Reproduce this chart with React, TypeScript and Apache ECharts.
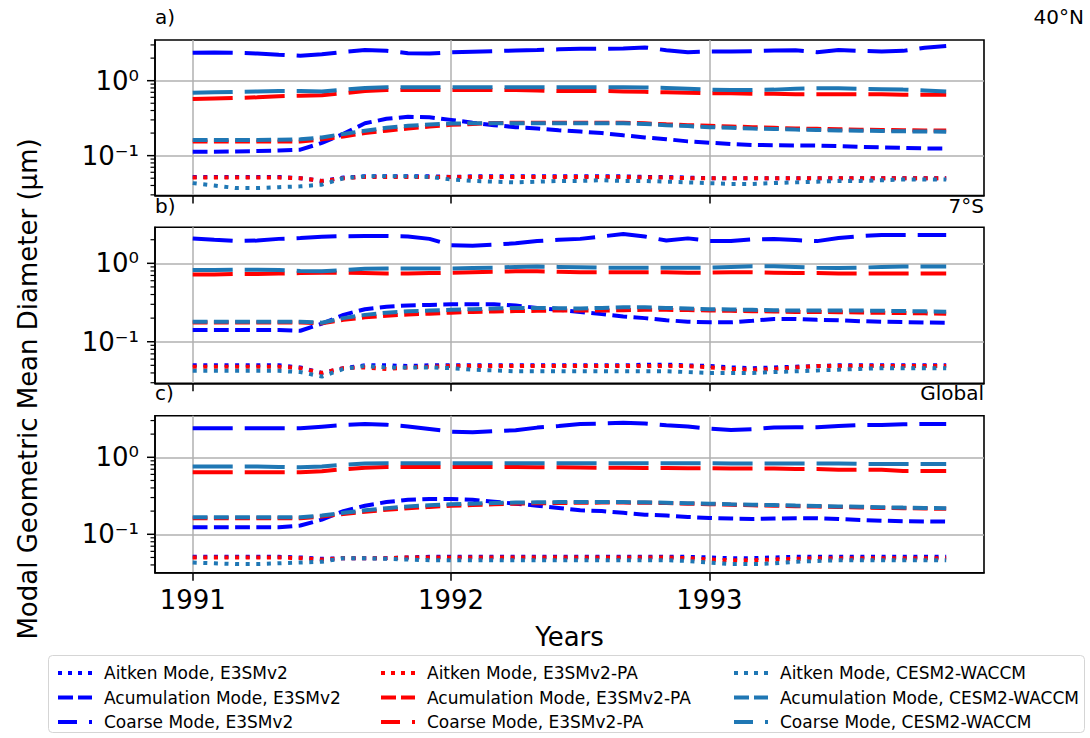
import React, { useEffect, useRef } from 'react';
import * as echarts from 'echarts';

// ---- time axis (monthly means, Jan 1991 .. Dec 1993) ----
const monthIndex = Array.from({ length: 36 }, (_, i) => i);
const xYears = monthIndex.map((i) => 1991 + i / 12);
const xTicks = [1991, 1992, 1993];
const yMajorTicks = [0.1, 1];
const yMinorTicks = [0.03, 0.04, 0.05, 0.06, 0.07, 0.08, 0.09, 0.2, 0.3, 0.4, 0.5, 0.6, 0.7, 0.8, 0.9, 2, 3];

// ---- panel a) 40°N ----
const aAitE3 = [.052,.052,.052,.052,.052,.05,.046,.051,.053,.053,.053,.053,.052,.053,.053,.053,.053,.053,.053,.053,.053,.052,.052,.051,.05,.05,.05,.05,.05,.05,.05,.05,.05,.05,.05,.05];
const aAitPA = [.051,.051,.051,.051,.051,.05,.046,.05,.052,.052,.052,.052,.052,.052,.052,.052,.052,.052,.052,.052,.052,.051,.051,.05,.05,.05,.05,.05,.05,.05,.05,.05,.05,.05,.05,.05];
const aAitCE = [.043,.040,.037,.037,.038,.039,.041,.050,.053,.053,.053,.052,.048,.046,.045,.044,.045,.046,.046,.047,.046,.046,.045,.044,.043,.042,.042,.043,.044,.045,.046,.046,.047,.048,.048,.048];
const aAccE3 = [.113,.113,.114,.115,.117,.12,.148,.195,.27,.31,.33,.325,.30,.275,.255,.24,.23,.218,.21,.2,.187,.175,.166,.155,.149,.143,.139,.138,.137,.136,.134,.131,.129,.127,.125,.125];
const aAccPA = [.154,.154,.154,.154,.154,.154,.165,.18,.2,.215,.23,.245,.258,.265,.272,.275,.275,.275,.275,.275,.275,.27,.262,.255,.25,.245,.24,.235,.23,.228,.225,.222,.22,.218,.217,.216];
const aAccCE = [.162,.162,.162,.162,.163,.165,.175,.195,.215,.235,.25,.26,.268,.27,.27,.27,.27,.27,.27,.27,.27,.265,.255,.248,.24,.235,.23,.227,.223,.22,.217,.215,.213,.211,.21,.209];
const aCoaE3 = [2.36,2.38,2.36,2.3,2.22,2.15,2.25,2.42,2.57,2.5,2.33,2.3,2.4,2.44,2.48,2.53,2.57,2.62,2.66,2.66,2.68,2.78,2.55,2.4,2.45,2.46,2.48,2.53,2.55,2.4,2.56,2.5,2.45,2.5,2.75,2.9];
const aCoaPA = [.57,.58,.59,.6,.62,.63,.64,.68,.73,.75,.75,.75,.75,.75,.75,.75,.74,.73,.73,.73,.72,.71,.7,.69,.68,.68,.67,.67,.66,.66,.66,.66,.66,.65,.65,.65];
const aCoaCE = [.69,.70,.71,.72,.73,.73,.72,.76,.80,.82,.82,.82,.82,.82,.82,.82,.82,.82,.82,.82,.82,.81,.80,.78,.76,.75,.75,.76,.78,.79,.79,.78,.77,.76,.74,.72];

// ---- panel b) 7°S ----
const bAitE3 = [.05,.05,.05,.05,.05,.047,.04,.046,.05,.05,.049,.05,.05,.05,.05,.05,.05,.05,.05,.05,.05,.051,.051,.05,.049,.047,.046,.047,.048,.049,.05,.05,.05,.05,.05,.05];
const bAitPA = [.048,.048,.048,.048,.048,.046,.04,.046,.047,.045,.047,.048,.049,.049,.049,.049,.049,.049,.049,.049,.049,.049,.049,.049,.047,.045,.044,.045,.047,.049,.049,.049,.049,.049,.049,.049];
const bAitCE = [.0425,.0425,.0425,.0425,.0425,.041,.036,.045,.049,.047,.047,.047,.046,.044,.043,.042,.042,.042,.042,.042,.042,.042,.042,.041,.04,.04,.04,.041,.042,.043,.044,.045,.046,.046,.046,.046];
const bAccE3 = [.141,.141,.141,.141,.141,.138,.17,.22,.26,.28,.29,.295,.3,.3,.3,.29,.27,.255,.24,.225,.21,.2,.188,.18,.177,.177,.185,.195,.195,.19,.188,.183,.18,.178,.176,.175];
const bAccPA = [.176,.176,.176,.176,.176,.176,.172,.19,.205,.215,.222,.228,.235,.24,.243,.246,.248,.25,.25,.25,.252,.255,.255,.253,.25,.248,.245,.243,.24,.24,.238,.236,.234,.232,.23,.228];
const bAccCE = [.18,.18,.18,.18,.18,.18,.175,.2,.22,.235,.245,.25,.255,.26,.265,.27,.27,.268,.265,.27,.275,.275,.27,.265,.26,.258,.255,.252,.25,.25,.25,.25,.248,.246,.244,.242];
const bCoaE3 = [2.08,2.0,1.93,1.95,2.05,2.1,2.18,2.22,2.23,2.23,2.2,2.05,1.7,1.68,1.73,1.8,1.92,2.0,2.05,2.2,2.36,2.2,1.95,2.08,1.93,1.92,2.02,2.04,1.98,1.92,2.1,2.22,2.3,2.3,2.3,2.3];
const bCoaPA = [.72,.72,.73,.73,.74,.75,.76,.76,.75,.74,.74,.75,.76,.77,.78,.79,.79,.78,.77,.77,.77,.77,.77,.76,.76,.77,.77,.76,.75,.75,.74,.74,.74,.74,.74,.74];
const bCoaCE = [.82,.82,.83,.83,.82,.8,.79,.82,.85,.86,.86,.86,.86,.87,.88,.9,.91,.9,.89,.88,.88,.88,.88,.88,.88,.9,.92,.92,.9,.88,.87,.88,.9,.91,.91,.91];

// ---- panel c) Global ----
const cAitE3 = [.051,.051,.051,.051,.051,.05,.048,.049,.049,.049,.05,.051,.051,.051,.051,.051,.051,.051,.051,.051,.051,.051,.051,.051,.05,.049,.049,.05,.051,.051,.051,.051,.051,.051,.051,.051];
const cAitPA = [.05,.05,.05,.05,.05,.049,.047,.049,.049,.049,.05,.05,.05,.05,.05,.05,.05,.05,.05,.05,.05,.05,.05,.049,.047,.046,.046,.047,.048,.049,.049,.049,.049,.049,.049,.049];
const cAitCE = [.043,.042,.041,.041,.042,.043,.044,.049,.049,.048,.047,.046,.046,.046,.046,.046,.046,.046,.046,.046,.046,.046,.046,.045,.043,.041,.041,.042,.044,.045,.046,.046,.046,.046,.046,.046];
const cAccE3 = [.123,.123,.123,.123,.123,.13,.155,.2,.235,.262,.28,.287,.287,.28,.265,.25,.235,.22,.205,.2,.19,.18,.175,.168,.163,.16,.158,.16,.162,.162,.158,.153,.15,.148,.147,.146];
const cAccPA = [.162,.162,.162,.162,.162,.162,.17,.183,.196,.208,.218,.227,.234,.24,.245,.25,.253,.255,.257,.258,.258,.257,.254,.25,.246,.242,.238,.235,.232,.229,.226,.223,.22,.218,.216,.214];
const cAccCE = [.166,.166,.166,.166,.166,.166,.175,.19,.205,.218,.23,.238,.245,.25,.255,.258,.26,.262,.262,.262,.262,.26,.257,.253,.25,.245,.242,.24,.236,.233,.23,.228,.225,.222,.22,.218];
const cCoaE3 = [2.38,2.38,2.38,2.38,2.38,2.38,2.5,2.62,2.71,2.65,2.52,2.33,2.15,2.11,2.18,2.25,2.43,2.55,2.7,2.75,2.8,2.75,2.6,2.52,2.35,2.26,2.32,2.43,2.45,2.45,2.55,2.63,2.63,2.68,2.71,2.71];
const cCoaPA = [.64,.64,.64,.64,.64,.64,.66,.7,.73,.75,.75,.75,.75,.75,.75,.75,.745,.74,.735,.73,.73,.725,.725,.72,.72,.715,.715,.715,.705,.705,.69,.69,.69,.665,.665,.665];
const cCoaCE = [.76,.76,.76,.76,.75,.74,.76,.8,.83,.835,.835,.835,.835,.835,.835,.835,.835,.835,.835,.835,.835,.835,.835,.835,.835,.83,.83,.83,.83,.83,.83,.82,.82,.82,.82,.82];

const panels = [
  { label: 'a)', region: '40°N', data: [[aAitE3, aAccE3, aCoaE3], [aAitPA, aAccPA, aCoaPA], [aAitCE, aAccCE, aCoaCE]] },
  { label: 'b)', region: '7°S', data: [[bAitE3, bAccE3, bCoaE3], [bAitPA, bAccPA, bCoaPA], [bAitCE, bAccCE, bCoaCE]] },
  { label: 'c)', region: 'Global', data: [[cAitE3, cAccE3, cCoaE3], [cAitPA, cAccPA, cCoaPA], [cAitCE, cAccCE, cCoaCE]] },
];

const models = ['E3SMv2', 'E3SMv2-PA', 'CESM2-WACCM'];
const modes = ['Aitken Mode', 'Acumulation Mode', 'Coarse Mode'];

// ---- styling / layout (not data) ----
const COLORS = ['#0000ff', '#ff0000', '#1f77b4'];
const DASH = [[4, 6.6], [14.8, 6.4], [40, 12]];
const LEGEND_DASH = [[4, 6], [15, 5], [19, 12, 3, 60]];
const FONT = 'DejaVu Sans';
const X_MIN = 1990.854;
const X_MAX = 1994.063;
const GRID_LEFT = 155;
const GRID_WIDTH = 829;
const LINE_W = 4;
const gridBoxes = [
  { top: 40, height: 155.5, yMin: 0.0294, yMax: 3.49, titleY: 17, regionX: 1084 },
  { top: 227.3, height: 156, yMin: 0.0295, yMax: 2.88, titleY: 206, regionX: 984 },
  { top: 415.7, height: 157, yMin: 0.0317, yMax: 3.47, titleY: 393, regionX: 984 },
];
const legendLeft = [51, 374, 727];

function tickSeries(p: number, values: number[], len: number, width: number) {
  const g = gridBoxes[p];
  return {
    type: 'custom', xAxisIndex: p, yAxisIndex: p, silent: true, z: 4, clip: false,
    data: values.filter((v) => v >= g.yMin && v <= g.yMax).map((v) => [X_MIN, v]),
    renderItem: (params: any, api: any) => {
      const pt = api.coord([api.value(0), api.value(1)]);
      return {
        type: 'line',
        shape: { x1: pt[0] - len, y1: pt[1], x2: pt[0], y2: pt[1] },
        style: { stroke: '#000', lineWidth: width },
      };
    },
  };
}

function buildOption() {
  const grid = gridBoxes.map((g) => ({
    left: GRID_LEFT, top: g.top, width: GRID_WIDTH, height: g.height,
    show: true, borderColor: '#000', borderWidth: 1.6, backgroundColor: 'transparent',
  }));
  const xAxis = gridBoxes.map((g, p) => ({
    type: 'value', gridIndex: p, min: X_MIN, max: X_MAX,
    axisLine: { show: true, onZero: false, lineStyle: { color: '#000', width: 1.6 } },
    axisTick: { show: true, length: 8, customValues: xTicks, lineStyle: { color: '#000', width: 1.5 } },
    axisLabel: {
      show: p === 2, customValues: xTicks, margin: 14, color: '#000',
      fontFamily: FONT, fontSize: 26, formatter: (v: number) => String(Math.round(v)),
    },
    splitLine: { show: true, lineStyle: { color: '#b0b0b0', width: 1.5 } },
  }));
  const yAxis = gridBoxes.map((g, p) => ({
    type: 'log', logBase: 10, gridIndex: p, min: g.yMin, max: g.yMax,
    axisLine: { show: true, lineStyle: { color: '#000', width: 1.6 } },
    axisTick: { show: false },
    axisLabel: {
      margin: 16, color: '#000', fontFamily: FONT, fontSize: 26,
      showMinLabel: false, showMaxLabel: false,
      formatter: (v: number) => {
        if (Math.abs(v - 1) < 1e-6) return '10⁰';
        if (Math.abs(v - 0.1) < 1e-7) return '10⁻¹';
        return '';
      },
    },
    splitLine: { show: true, showMinLine: false, showMaxLine: false, lineStyle: { color: '#b0b0b0', width: 1.5 } },
  }));

  const series: any[] = [];
  panels.forEach((panel, p) => {
    panel.data.forEach((modelData, mi) => {
      modelData.forEach((vals, k) => {
        series.push({
          type: 'line',
          name: `${modes[k]}, ${models[mi]}`,
          xAxisIndex: p, yAxisIndex: p,
          data: vals.map((v, i) => [xYears[i], v]),
          symbol: 'none', silent: true, z: 3,
          itemStyle: { color: COLORS[mi] },
          lineStyle: { color: COLORS[mi], width: LINE_W, type: DASH[k], cap: 'butt' },
        });
      });
    });
    series.push(tickSeries(p, yMinorTicks, 4.5, 1.2));
    series.push(tickSeries(p, yMajorTicks, 8, 1.5));
  });

  const legend = models.map((model, mi) => ({
    orient: 'vertical', left: legendLeft[mi], top: 659.5,
    itemWidth: 34, itemHeight: 14, itemGap: 7.5, selectedMode: false,
    textStyle: { fontFamily: FONT, fontSize: 17, color: '#000', padding: [0, 0, 0, 7] },
    data: modes.map((mode, k) => ({
      name: `${mode}, ${model}`,
      lineStyle: { type: LEGEND_DASH[k], width: LINE_W, color: COLORS[mi] },
      itemStyle: { color: 'rgba(0,0,0,0)', opacity: 0, borderWidth: 0 },
    })),
  }));

  const graphic: any[] = [
    {
      type: 'rect', z: 1, silent: true,
      shape: { x: 48.5, y: 655.5, width: 1036, height: 77, r: 4 },
      style: { fill: '#fff', stroke: '#d5d5d5', lineWidth: 1 },
    },
    {
      type: 'text', x: 28, y: 389, rotation: Math.PI / 2, silent: true,
      style: { text: 'Modal Geometric Mean Diameter (μm)', font: `26px "${FONT}"`, fill: '#000', align: 'center', verticalAlign: 'middle' },
    },
    {
      type: 'text', x: GRID_LEFT + GRID_WIDTH / 2, y: 637, silent: true,
      style: { text: 'Years', font: `26px "${FONT}"`, fill: '#000', align: 'center', verticalAlign: 'middle' },
    },
  ];
  panels.forEach((panel, p) => {
    const g = gridBoxes[p];
    graphic.push({
      type: 'text', x: GRID_LEFT, y: g.titleY, silent: true,
      style: { text: panel.label, font: `20px "${FONT}"`, fill: '#000', align: 'left', verticalAlign: 'middle' },
    });
    graphic.push({
      type: 'text', x: g.regionX, y: g.titleY, silent: true,
      style: { text: panel.region, font: `20px "${FONT}"`, fill: '#000', align: 'right', verticalAlign: 'middle' },
    });
  });

  return {
    animation: false,
    backgroundColor: '#fff',
    textStyle: { fontFamily: FONT },
    grid, xAxis, yAxis, series, legend, graphic,
  };
}

export default function App() {
  const ref = useRef<HTMLDivElement>(null);
  useEffect(() => {
    if (!ref.current) return;
    const chart = echarts.init(ref.current, undefined, { renderer: 'svg' });
    chart.setOption(buildOption() as any);
    return () => chart.dispose();
  }, []);
  return (
    <div
      ref={ref}
      style={{ position: 'fixed', left: 0, top: 0, width: 1090, height: 738, background: '#fff' }}
    />
  );
}
